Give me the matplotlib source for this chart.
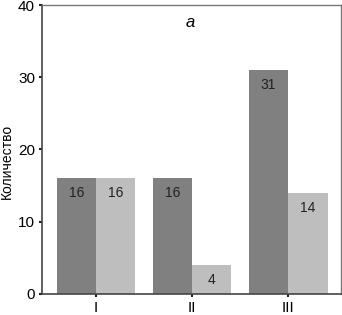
import matplotlib.pyplot as plt
import numpy as np

plt.rcParams['font.family'] = ['Liberation Sans', 'DejaVu Sans']

# Data
groups = ["I", "II", "III"]
dark_vals = [16, 16, 31]
light_vals = [16, 4, 14]

dark_col = '#808080'
light_col = '#bebebe'

fig = plt.figure(figsize=(3.42, 3.15), dpi=100)
ax = fig.add_axes([0.123, 0.067, 0.874, 0.917])

x = np.arange(len(groups))
w = 0.41

b1 = ax.bar(x - w/2, dark_vals, width=w, color=dark_col, edgecolor='none')
b2 = ax.bar(x + w/2, light_vals, width=w, color=light_col, edgecolor='none')

for bars, vals in [(b1, dark_vals), (b2, light_vals)]:
    for b, v in zip(bars, vals):
        ax.text(b.get_x() + b.get_width()/2, v - 1.1, str(v), ha='center', va='top',
                fontsize=10, color='#222222')

ax.text(0.98, 37.6, "a", style='italic', fontsize=12, ha='center', va='center')

ax.set_xlim(-0.5625, 2.55)
ax.set_ylim(0, 40)
ax.set_yticks([0, 10, 20, 30, 40])
ax.set_xticks(x)
ax.set_xticklabels(groups)
ax.tick_params(axis='both', direction='out', length=2, width=1.5, labelsize=11, pad=3,
               color='#222222')
ax.set_ylabel("Количество", fontsize=10)
ax.yaxis.set_label_coords(-0.094, 0.46)

for s in ['left', 'bottom']:
    ax.spines[s].set_color('#444444')
    ax.spines[s].set_linewidth(1.2)
for s in ['top', 'right']:
    ax.spines[s].set_color('#777777')
    ax.spines[s].set_linewidth(1.0)

plt.savefig('out.png', dpi=100)
